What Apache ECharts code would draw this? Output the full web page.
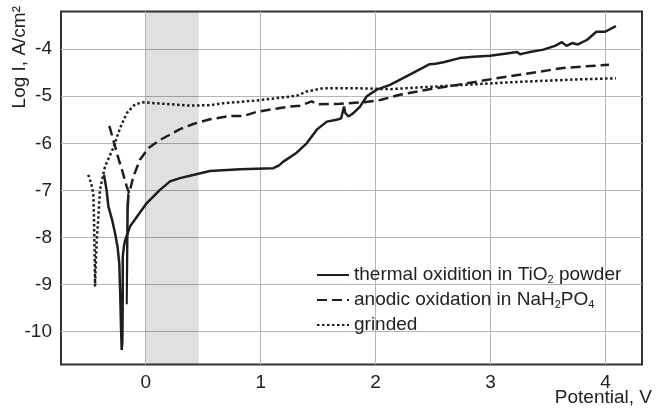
<!DOCTYPE html>
<html><head><meta charset="utf-8">
<script src="https://cdn.jsdelivr.net/npm/echarts@6/dist/echarts.min.js"></script>
<style>html,body{margin:0;padding:0;background:#fff}#c{width:664px;height:414px}</style>
</head><body><div id="c"></div>
<script>
const xTicks = [0, 1, 2, 3, 4];
const yTicks = [-10, -9, -8, -7, -6, -5, -4];
const xRange = [-0.737, 4.317];
const yRange = [-10.70, -3.20];
const band = [0, 0.46];
const seriesNames = ['thermal oxidition in TiO2 powder', 'anodic oxidation in NaH2PO4', 'grinded'];

const thermal = [
  [-0.363,-6.67],[-0.34,-7.0],[-0.325,-7.34],[-0.29,-7.65],[-0.267,-7.91],[-0.245,-8.2],[-0.23,-8.55],
  [-0.222,-9.2],[-0.215,-9.9],[-0.209,-10.39],[-0.203,-10.2],[-0.2,-9.3],[-0.2,-8.41],[-0.19,-8.2],
  [-0.18,-8.07],[-0.137,-7.77],[-0.064,-7.52],[0.009,-7.27],[0.124,-6.99],[0.211,-6.81],[0.298,-6.74],
  [0.385,-6.69],[0.559,-6.59],[0.82,-6.55],[1.11,-6.53],[1.16,-6.47],[1.197,-6.39],[1.313,-6.20],
  [1.40,-6.0],[1.488,-5.71],[1.575,-5.54],[1.66,-5.50],[1.70,-5.47],[1.725,-5.22],[1.735,-5.35],
  [1.763,-5.43],[1.806,-5.36],[1.864,-5.22],[1.923,-5.0],[2.01,-4.86],[2.125,-4.76],[2.18,-4.69],
  [2.33,-4.50],[2.47,-4.32],[2.52,-4.31],[2.59,-4.28],[2.73,-4.19],[2.85,-4.16],[2.995,-4.14],
  [3.14,-4.09],[3.23,-4.06],[3.256,-4.11],[3.29,-4.09],[3.343,-4.06],[3.459,-4.01],[3.56,-3.93],
  [3.62,-3.85],[3.66,-3.93],[3.71,-3.87],[3.76,-3.90],[3.84,-3.80],[3.92,-3.63],[3.996,-3.63],[4.09,-3.51]
];
const anodic = [
  [-0.317,-5.63],[-0.28,-5.95],[-0.24,-6.3],[-0.2,-6.62],[-0.165,-6.92],[-0.143,-7.06],[-0.135,-7.1],
  [-0.108,-6.71],[-0.05,-6.35],[0.023,-6.10],[0.124,-5.93],[0.298,-5.70],[0.414,-5.59],[0.559,-5.49],
  [0.733,-5.42],[0.85,-5.42],[0.966,-5.33],[1.255,-5.22],[1.342,-5.2],[1.444,-5.11],[1.488,-5.17],
  [1.69,-5.16],[1.893,-5.13],[2.04,-5.08],[2.21,-4.97],[2.47,-4.85],[2.76,-4.74],[3.05,-4.62],
  [3.34,-4.51],[3.63,-4.40],[4.03,-4.33]
];
const anodicSpike = [
  [-0.151,-7.06],[-0.16,-7.3],[-0.163,-8.3],[-0.165,-9.42],[-0.16,-8.4],[-0.155,-7.4],[-0.148,-7.1]
];
const grinded = [
  [-0.5,-6.67],[-0.475,-6.85],[-0.456,-7.06],[-0.45,-7.6],[-0.445,-8.3],[-0.441,-9.04],[-0.435,-8.6],
  [-0.426,-8.05],[-0.41,-7.5],[-0.398,-6.99],[-0.354,-6.49],[-0.282,-6.10],[-0.224,-5.68],[-0.165,-5.36],
  [-0.093,-5.17],[-0.021,-5.13],[0.153,-5.16],[0.385,-5.2],[0.559,-5.19],[0.675,-5.15],[0.966,-5.09],
  [1.313,-4.99],[1.4,-4.9],[1.545,-4.83],[1.836,-4.83],[2.125,-4.85],[2.33,-4.82],[2.62,-4.78],
  [2.91,-4.74],[3.2,-4.70],[3.49,-4.67],[3.78,-4.64],[4.09,-4.62]
];

const FONT = '"Liberation Sans", Arial, sans-serif';
const INK = '#1e1e1e';
const chart = echarts.init(document.getElementById('c'), null, {renderer: 'canvas'});
const lineBase = {type: 'line', showSymbol: false, symbol: 'none', smooth: false, animation: false};
chart.setOption({
  animation: false,
  backgroundColor: '#fff',
  grid: {left: 61, right: 22, top: 11.5, bottom: 49.5, show: true, borderColor: '#333', borderWidth: 2, backgroundColor: 'transparent'},
  xAxis: {
    type: 'value', min: xRange[0], max: xRange[1],
    axisLine: {show: false}, axisTick: {show: false, customValues: xTicks},
    axisLabel: {customValues: xTicks, fontFamily: FONT, fontSize: 19, color: '#222', margin: 9},
    splitLine: {show: true, lineStyle: {color: '#b5b5b5', width: 1}}
  },
  yAxis: {
    type: 'value', min: yRange[0], max: yRange[1],
    axisLine: {show: false}, axisTick: {show: false, customValues: yTicks},
    axisLabel: {customValues: yTicks, fontFamily: FONT, fontSize: 19, color: '#222', margin: 9},
    splitLine: {show: true, lineStyle: {color: '#b5b5b5', width: 1}}
  },
  legend: {
    left: 311, top: 260, orient: 'vertical', itemWidth: 32, itemHeight: 14, itemGap: 5,
    itemStyle: {opacity: 0},
    textStyle: {fontFamily: FONT, fontSize: 19, color: '#222', lineHeight: 20,
      rich: {s: {fontFamily: FONT, fontSize: 11, color: '#222', padding: [9, 0, 0, 0]}}},
    formatter: function (n) { return n.replace(/(TiO|NaH|PO)(\d)/g, '$1{s|$2}'); },
    data: seriesNames
  },
  graphic: [
    {type: 'text', x: 20, y: 6, rotation: Math.PI / 2,
     style: {text: 'Log I, A/cm²', font: '19px ' + FONT, fill: '#222', textAlign: 'right', textVerticalAlign: 'middle'}},
    {type: 'text', right: 12, top: 388,
     style: {text: 'Potential, V', font: '19px ' + FONT, fill: '#222'}}
  ],
  series: [
    Object.assign({}, lineBase, {name: seriesNames[0], data: thermal, z: 5,
      lineStyle: {color: INK, width: 2.5}, itemStyle: {color: INK},
      markArea: {silent: true, itemStyle: {color: 'rgba(0,0,0,0.12)'}, data: [[{xAxis: band[0]}, {xAxis: band[1]}]]}}),
    Object.assign({}, lineBase, {name: seriesNames[1], data: anodic, z: 4,
      lineStyle: {color: INK, width: 2.5, type: [10, 5]}, itemStyle: {color: INK}}),
    Object.assign({}, lineBase, {name: 'spike', data: anodicSpike, z: 4,
      lineStyle: {color: INK, width: 2}, itemStyle: {color: INK}}),
    Object.assign({}, lineBase, {name: seriesNames[2], data: grinded, z: 3,
      lineStyle: {color: INK, width: 2.5, type: [2.5, 2.5]}, itemStyle: {color: INK}})
  ]
});
</script></body></html>
